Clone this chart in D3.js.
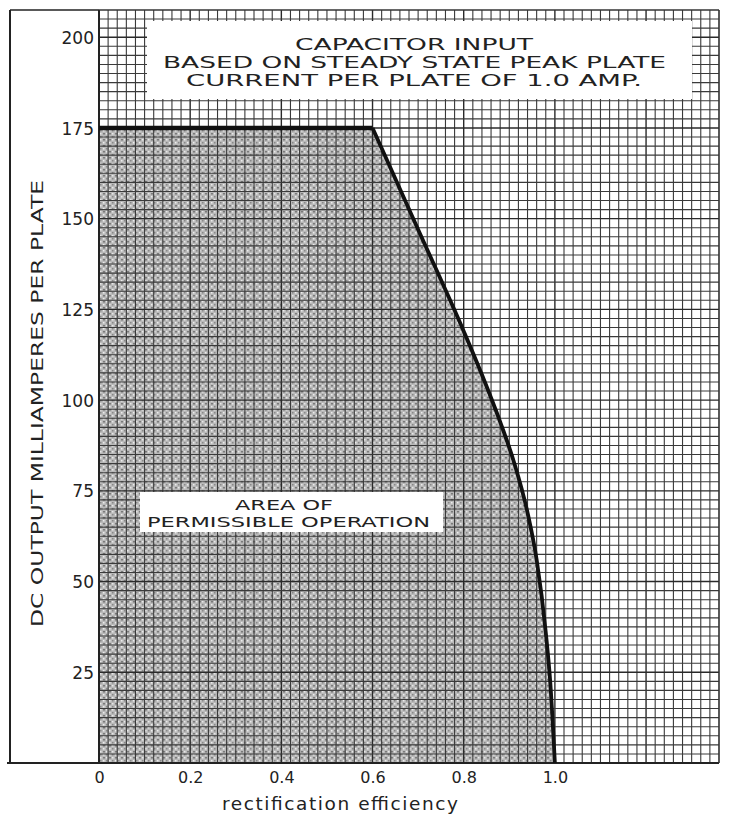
<!DOCTYPE html>
<html>
<head>
<meta charset="utf-8">
<script src="https://cdn.jsdelivr.net/npm/d3@7/dist/d3.min.js"></script>
<style>
html,body{margin:0;padding:0;background:#fff;}
svg{display:block;}
text{font-family:"DejaVu Sans",sans-serif;fill:#222;}
</style>
</head>
<body>
<svg id="chart" width="732" height="818"></svg>
<script>
// ---- data ----
const xTickValues = [0, 0.2, 0.4, 0.6, 0.8, 1.0];
const xTickLabels = ["0", "0.2", "0.4", "0.6", "0.8", "1.0"];
const yTickValues = [25, 50, 75, 100, 125, 150, 175, 200];
const yTickLabels = ["25", "50", "75", "100", "125", "150", "175", "200"];
// boundary of permissible operation
const flatEff = [0, 0.6];
const flatMa = [175, 175];
const curveEff = [0.6, 0.7, 0.8, 0.84, 0.88, 0.91, 0.94, 0.96, 0.98, 0.99, 1.0];
const curveMa  = [175, 147, 119, 107, 94, 83, 69, 56, 36, 22, 0];
const titleLines = ["CAPACITOR INPUT", "BASED ON STEADY STATE PEAK PLATE", "CURRENT PER PLATE OF 1.0 AMP."];
const areaLines = ["AREA OF", "PERMISSIBLE OPERATION"];
const xTitle = "rectification efficiency";
const yTitle = "DC OUTPUT MILLIAMPERES PER PLATE";

// ---- layout ----
const svg = d3.select("#chart");
const x0 = 99, x1 = 719, yTop = 10, yBot = 763;
const x = d3.scaleLinear().domain([0, 1.36]).range([x0, x1]);
const y = d3.scaleLinear().domain([0, 207.5]).range([yBot, yTop]);

// shading pattern
const defs = svg.append("defs");
const pat = defs.append("pattern").attr("id", "stipple").attr("patternUnits", "userSpaceOnUse")
  .attr("width", 6).attr("height", 6);
pat.append("rect").attr("width", 6).attr("height", 6).attr("fill", "#b9b9b9");
pat.append("rect").attr("x", 1).attr("y", 1).attr("width", 2).attr("height", 1.5).attr("fill", "#7a7a7a");
pat.append("rect").attr("x", 4).attr("y", 4).attr("width", 1.5).attr("height", 1.5).attr("fill", "#888");
pat.append("rect").attr("x", 4).attr("y", 1).attr("width", 1.5).attr("height", 1.5).attr("fill", "#e8e8e8");
pat.append("rect").attr("x", 1).attr("y", 4).attr("width", 1.5).attr("height", 1.5).attr("fill", "#ececec");

const flatPts = flatEff.map((e, i) => [e, flatMa[i]]);
const curvPts = curveEff.map((e, i) => [e, curveMa[i]]);
const curveLine = d3.line().x(d => x(d[0])).y(d => y(d[1])).curve(d3.curveMonotoneX);
const curvePath = curveLine(curvPts);
svg.append("path")
  .attr("d", "M" + x(0) + "," + y(0) + "L" + x(flatPts[0][0]) + "," + y(flatPts[0][1]) +
             "L" + x(flatPts[1][0]) + "," + y(flatPts[1][1]) + curvePath.replace(/^M[^CL]*/, "") + "Z")
  .attr("fill", "url(#stipple)");

// grid
const gGrid = svg.append("g");
const minorX = d3.range(0, 1.3601, 0.02);
const minorY = d3.range(0, 207.51, 2.5);
const isMajX = d => Math.abs(Math.round(d * 5) - d * 5) < 1e-6;
const isMajY = d => Math.abs(d % 25) < 1e-6;
gGrid.selectAll("line.vx").data(minorX).join("line")
  .attr("x1", d => x(d)).attr("x2", d => x(d)).attr("y1", yTop).attr("y2", yBot)
  .attr("stroke", d => isMajX(d) ? "#2a2a2a" : "#3a3a3a")
  .attr("stroke-width", d => isMajX(d) ? 1.4 : 1.1);
gGrid.selectAll("line.hy").data(minorY).join("line")
  .attr("x1", x0).attr("x2", x1).attr("y1", d => y(d)).attr("y2", d => y(d))
  .attr("stroke", d => isMajY(d) ? "#2a2a2a" : "#3a3a3a")
  .attr("stroke-width", d => isMajY(d) ? 1.4 : 1.1);

// frame lines
svg.append("line").attr("x1", 10).attr("x2", 10).attr("y1", 10).attr("y2", yBot).attr("stroke", "#222").attr("stroke-width", 2);
svg.append("line").attr("x1", 10).attr("x2", x0).attr("y1", 10).attr("y2", 10).attr("stroke", "#222").attr("stroke-width", 1.5);
svg.append("line").attr("x1", 7).attr("x2", x1).attr("y1", yBot).attr("y2", yBot).attr("stroke", "#222").attr("stroke-width", 2);
svg.append("line").attr("x1", x0).attr("x2", x0).attr("y1", yTop).attr("y2", yBot).attr("stroke", "#222").attr("stroke-width", 2);
svg.append("line").attr("x1", x0).attr("x2", x1).attr("y1", yTop).attr("y2", yTop).attr("stroke", "#333").attr("stroke-width", 1.2);
svg.append("line").attr("x1", x1).attr("x2", x1).attr("y1", yTop).attr("y2", yBot).attr("stroke", "#333").attr("stroke-width", 1.2);

// boundary line
const lineGen = d3.line().x(d => x(d[0])).y(d => y(d[1]));
svg.append("path").attr("d", lineGen(flatPts)).attr("fill", "none").attr("stroke", "#111").attr("stroke-width", 4.5);
svg.append("path").attr("d", curvePath).attr("fill", "none").attr("stroke", "#111").attr("stroke-width", 3.8).attr("stroke-linejoin", "round");

// title box
svg.append("rect").attr("x", 147).attr("y", 21).attr("width", 545).attr("height", 78).attr("fill", "#fff");
const titleX = [[295, 533], [163, 666], [186, 642]];
const titleBase = [50, 68, 86];
titleLines.forEach((t, i) => {
  svg.append("text").attr("x", titleX[i][0]).attr("y", titleBase[i])
    .attr("textLength", titleX[i][1] - titleX[i][0]).attr("lengthAdjust", "spacingAndGlyphs")
    .attr("font-size", 15).text(t);
});

// area label box
svg.append("rect").attr("x", 140).attr("y", 492).attr("width", 303).attr("height", 40).attr("fill", "#fff");
const areaX = [[235, 333], [147, 430]];
const areaBase = [510, 527];
areaLines.forEach((t, i) => {
  svg.append("text").attr("x", areaX[i][0]).attr("y", areaBase[i])
    .attr("textLength", areaX[i][1] - areaX[i][0]).attr("lengthAdjust", "spacingAndGlyphs")
    .attr("font-size", 14.5).text(t);
});

// axes (labels only)
const xAxis = d3.axisBottom(x).tickValues(xTickValues).tickSize(0).tickPadding(0)
  .tickFormat((d, i) => xTickLabels[i]);
const gx = svg.append("g").attr("transform", `translate(0,${yBot})`).call(xAxis);
gx.select(".domain").remove();
gx.selectAll("text").attr("dy", 0).attr("y", 20).attr("font-size", 16).attr("fill", "#222")
  .attr("font-family", "DejaVu Sans, sans-serif");

const yAxis = d3.axisLeft(y).tickValues(yTickValues).tickSize(0).tickPadding(0)
  .tickFormat((d, i) => yTickLabels[i]);
const gy = svg.append("g").attr("transform", `translate(${x0 - 5},0)`).call(yAxis);
gy.select(".domain").remove();
gy.selectAll("text").attr("x", 0).attr("dy", "0.36em").attr("font-size", 17).attr("fill", "#222")
  .attr("font-family", "DejaVu Sans, sans-serif");

// axis titles
svg.append("text").attr("x", 222).attr("y", 810).attr("textLength", 236).attr("lengthAdjust", "spacing")
  .attr("font-size", 18.5).attr("fill", "#333").text(xTitle);
svg.append("text").attr("transform", "translate(43,627) rotate(-90)")
  .attr("x", 0).attr("y", 0).attr("textLength", 447).attr("lengthAdjust", "spacingAndGlyphs")
  .attr("font-size", 16).text(yTitle);
</script>
</body>
</html>
